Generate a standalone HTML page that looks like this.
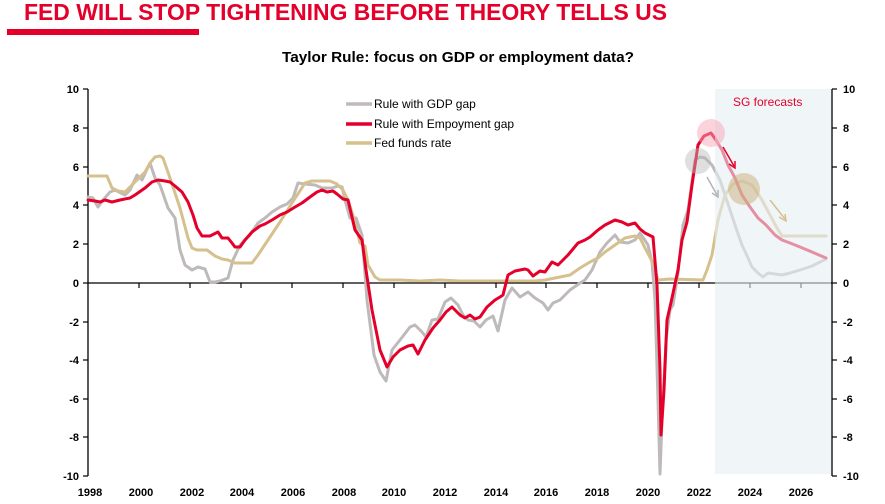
<!DOCTYPE html>
<html><head><meta charset="utf-8"><style>
html,body{margin:0;padding:0;background:#fff;}
svg{display:block;font-family:"Liberation Sans",sans-serif;}
</style></head><body>
<svg width="885" height="504" viewBox="0 0 885 504">
<text x="24" y="20" font-size="23" font-weight="bold" fill="#e4002b" textLength="643" lengthAdjust="spacingAndGlyphs">FED WILL STOP TIGHTENING BEFORE THEORY TELLS US</text>
<rect x="7" y="29" width="192" height="6" fill="#e4002b"/>
<text x="282" y="62" font-size="15" font-weight="bold" fill="#000" textLength="352" lengthAdjust="spacingAndGlyphs">Taylor Rule: focus on GDP or employment data?</text>

<!-- axes -->
<g stroke="#000" stroke-width="1.3" fill="none">
<line x1="88" y1="89" x2="88" y2="476"/>
<line x1="832" y1="89" x2="832" y2="476"/>
<line x1="88" y1="283" x2="832" y2="283"/>
</g>
<g stroke="#000" stroke-width="1.2">
<line x1="83" y1="89" x2="88" y2="89"/><line x1="83" y1="128" x2="88" y2="128"/><line x1="83" y1="167" x2="88" y2="167"/><line x1="83" y1="205" x2="88" y2="205"/><line x1="83" y1="244" x2="88" y2="244"/><line x1="83" y1="283" x2="88" y2="283"/><line x1="83" y1="322" x2="88" y2="322"/><line x1="83" y1="360" x2="88" y2="360"/><line x1="83" y1="399" x2="88" y2="399"/><line x1="83" y1="437" x2="88" y2="437"/><line x1="83" y1="476" x2="88" y2="476"/>
<line x1="832" y1="89" x2="837" y2="89"/><line x1="832" y1="128" x2="837" y2="128"/><line x1="832" y1="167" x2="837" y2="167"/><line x1="832" y1="205" x2="837" y2="205"/><line x1="832" y1="244" x2="837" y2="244"/><line x1="832" y1="283" x2="837" y2="283"/><line x1="832" y1="322" x2="837" y2="322"/><line x1="832" y1="360" x2="837" y2="360"/><line x1="832" y1="399" x2="837" y2="399"/><line x1="832" y1="437" x2="837" y2="437"/><line x1="832" y1="476" x2="837" y2="476"/>
<line x1="139" y1="283" x2="139" y2="288"/><line x1="190" y1="283" x2="190" y2="288"/><line x1="241" y1="283" x2="241" y2="288"/><line x1="292" y1="283" x2="292" y2="288"/><line x1="343" y1="283" x2="343" y2="288"/><line x1="394" y1="283" x2="394" y2="288"/><line x1="445" y1="283" x2="445" y2="288"/><line x1="496" y1="283" x2="496" y2="288"/><line x1="546" y1="283" x2="546" y2="288"/><line x1="597" y1="283" x2="597" y2="288"/><line x1="648" y1="283" x2="648" y2="288"/><line x1="699" y1="283" x2="699" y2="288"/><line x1="750" y1="283" x2="750" y2="288"/><line x1="801" y1="283" x2="801" y2="288"/>
</g>
<g font-size="11" font-weight="bold" fill="#000" text-anchor="end">
<text x="79" y="93">10</text><text x="79" y="132">8</text><text x="79" y="171">6</text><text x="79" y="209">4</text><text x="79" y="248">2</text><text x="79" y="287">0</text><text x="79" y="326">-2</text><text x="79" y="364">-4</text><text x="79" y="403">-6</text><text x="79" y="441">-8</text><text x="79" y="480">-10</text>
</g>
<g font-size="11" font-weight="bold" fill="#000" text-anchor="start">
<text x="843" y="93">10</text><text x="843" y="132">8</text><text x="843" y="171">6</text><text x="843" y="209">4</text><text x="843" y="248">2</text><text x="843" y="287">0</text><text x="843" y="326">-2</text><text x="843" y="364">-4</text><text x="843" y="403">-6</text><text x="843" y="441">-8</text><text x="843" y="480">-10</text>
</g>
<g font-size="11" font-weight="bold" fill="#000" text-anchor="middle">
<text x="90" y="496">1998</text><text x="141" y="496">2000</text><text x="192" y="496">2002</text><text x="242" y="496">2004</text><text x="293" y="496">2006</text><text x="344" y="496">2008</text><text x="394" y="496">2010</text><text x="445" y="496">2012</text><text x="496" y="496">2014</text><text x="546" y="496">2016</text><text x="597" y="496">2018</text><text x="648" y="496">2020</text><text x="699" y="496">2022</text><text x="750" y="496">2024</text><text x="801" y="496">2026</text>
</g>

<g fill="none" stroke-width="3" stroke-linejoin="round" stroke-linecap="round">
<!-- gray -->
<polyline stroke="#bdbab9" points="88,197 93,198 98,207 103,200 110,192 115,190 125,195 130,190 137,175 142,180 150,163 155,178 160,185 168,208 175,218 180,250 185,265 192,270 198,267 205,269 210,282 215,282 220,281 228,278 233,260 240,245 250,235 258,223 265,218 272,212 280,207 287,204 293,198 298,183 305,184 315,185 322,188 332,188 338,186 342,187 345,200 350,218 356,218 362,235 367,300 374,355 380,372 386,381 392,350 400,340 410,327 415,325 422,332 426,337 432,320 438,319 445,302 451,298 458,305 463,315 468,320 474,321 480,327 486,320 493,316 498,331 505,300 512,288 520,297 528,292 535,298 543,303 548,310 553,303 560,300 570,290 580,283 585,280 592,270 600,252 607,243 615,235 620,242 628,243 635,240 640,233 648,245 652,262 655,300 658,400 660,474 662,420 666,340 670,310 673,305 678,273 683,225 688,210 695,160 700,157 705,158 712,165 720,180 725,195 730,210 736,228 742,245 748,258 752,267 758,273 763,277 768,273 775,274 782,275 790,273 800,270 812,266 826,259"/>
<!-- tan -->
<polyline stroke="#d6c08e" points="88,176 107,176 112,188 118,191 125,192 133,184 145,172 150,163 155,157 160,156 163,158 170,178 180,208 188,238 192,248 197,250 207,250 215,256 222,259 228,260 235,263 252,263 258,255 268,240 280,222 292,203 305,183 312,181 330,181 337,184 343,190 348,200 355,222 360,243 365,246 368,265 375,277 380,280 400,280 420,281 440,280 460,281 480,281 500,281 535,281 545,280 555,278 570,275 580,268 590,262 598,258 605,252 615,245 625,238 635,236 640,238 645,248 653,263 658,280 670,279 703,280 707,270 712,255 718,220 725,195 733,184 742,181 752,185 762,200 770,215 777,228 782,236 826,236"/>
<!-- red -->
<polyline stroke="#e4002b" points="88,200 95,201 100,202 105,200 112,202 120,200 130,198 135,195 145,188 152,182 158,180 165,181 170,182 175,186 182,192 188,202 193,215 197,228 202,236 210,236 218,232 222,238 228,238 232,243 235,247 240,247 245,240 252,232 260,226 265,224 272,220 280,215 287,212 295,207 302,203 310,197 317,192 322,190 327,192 333,191 337,194 343,199 348,200 355,230 362,240 366,270 372,310 380,350 387,367 393,357 400,350 408,346 413,345 418,354 425,340 433,328 440,320 446,312 452,307 460,315 465,318 470,315 475,319 480,317 487,307 495,300 500,297 503,295 508,275 515,271 525,269 528,270 533,276 540,271 545,272 552,262 558,265 568,255 578,243 585,240 590,237 598,230 605,225 615,220 622,222 628,225 635,223 640,229 645,233 653,237 657,285 660,370 661,435 664,390 667,320 672,298 678,270 682,240 687,222 692,185 698,145 704,136 711,133 716,140 722,150 728,165 735,178 742,195 750,207 758,218 766,225 775,235 782,240 790,243 800,247 812,252 826,258"/>
</g>
<!-- forecast shading -->
<rect x="715" y="89" width="116" height="385" fill="#e6eef3" opacity="0.6"/>
<text x="733" y="106" font-size="12" fill="#e4002b">SG forecasts</text>
<!-- circles -->
<circle cx="711" cy="133" r="14" fill="#f5a8b8" opacity="0.5"/>
<circle cx="698" cy="161" r="13" fill="#b8b8b8" opacity="0.45"/>
<circle cx="744" cy="189" r="16" fill="#c9b07a" opacity="0.5"/>
<!-- arrows -->
<g stroke-width="1.5" fill="none">
<line x1="723" y1="147" x2="734" y2="166" stroke="#e4002b"/>
<polyline points="729,164 735,168 735,161" stroke="#e4002b"/>
<line x1="707" y1="177" x2="717" y2="195" stroke="#b5b2b2"/>
<polyline points="712,193 718,197 718,190" stroke="#b5b2b2"/>
<line x1="770" y1="200" x2="785" y2="219" stroke="#d6c08e"/>
<polyline points="779,217 786,221 785,214" stroke="#d6c08e"/>
</g>
<!-- legend -->
<g stroke-width="3.5">
<line x1="346" y1="104" x2="372" y2="104" stroke="#bdbab9"/>
<line x1="346" y1="124" x2="372" y2="124" stroke="#e4002b"/>
<line x1="346" y1="143" x2="372" y2="143" stroke="#d6c08e"/>
</g>
<g font-size="12" fill="#000">
<text x="374" y="108">Rule with GDP gap</text>
<text x="374" y="128">Rule with Empoyment gap</text>
<text x="374" y="147">Fed funds rate</text>
</g>
</svg>
</body></html>
